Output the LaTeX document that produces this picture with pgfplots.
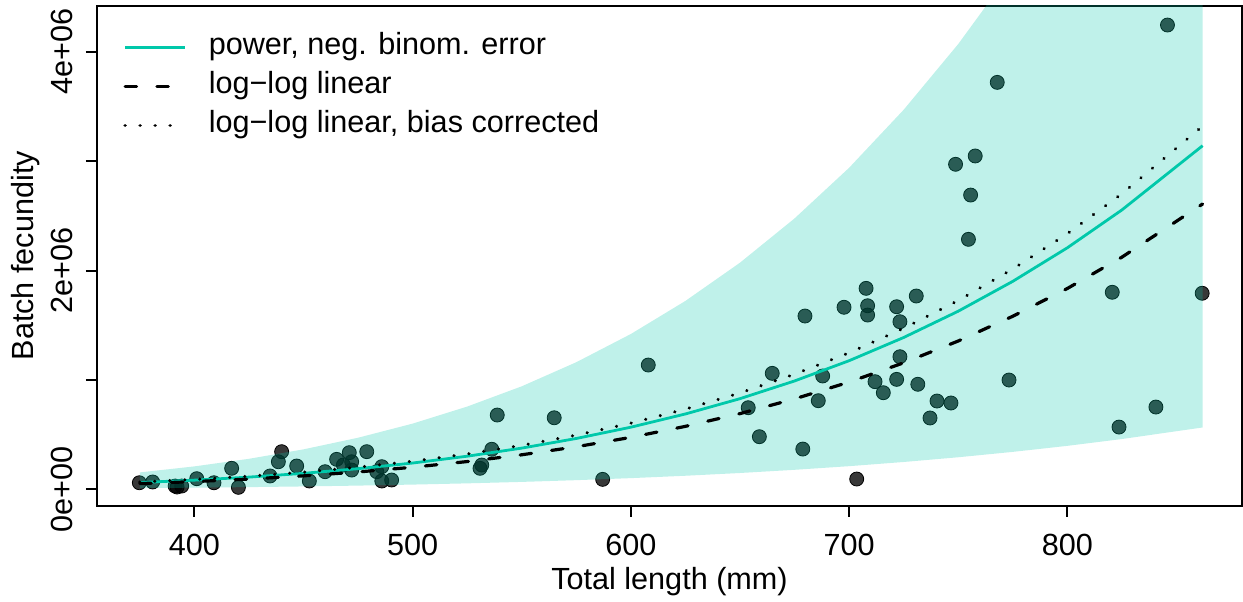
\documentclass[border=0pt]{standalone}
\usepackage{fontspec}
\setmainfont{Liberation Sans}
\usepackage{pgfplots}
\pgfplotsset{compat=1.18}
\definecolor{nbteal}{RGB}{0,200,170}
\newcommand\fs{\fontsize{15.3}{18}\selectfont}
\begin{document}
\begin{tikzpicture}
\begin{axis}[
  width=572.5pt, height=249.75pt, scale only axis,
  xmin=355.4, xmax=880.05, ymin=-148000, ymax=4418000,
  clip marker paths=true,
  axis line style={line width=1pt},
  tick style={line width=1pt, black},
  tick align=outside, major tick length=5.5pt,
  xtick pos=bottom, ytick pos=left,
  xtick={400,500,600,700,800}, xticklabels={400,500,600,700,800},
  ytick={0,1000000,2000000,3000000,4000000},
  yticklabels={0e+00,,2e+06,,4e+06},
  scaled y ticks=false,
  /pgf/number format/assume math mode=true,
  tick label style={font=\fs},
  xticklabel style={anchor=base}, xticklabel shift=19.25pt,
  yticklabel style={rotate=90, anchor=base}, yticklabel shift=6.5pt,
  xlabel={Total length (mm)}, ylabel={Batch fecundity},
  xlabel style={at={(axis description cs:0.5,0)}, anchor=base, yshift=-41.75pt, font=\fs},
  ylabel style={at={(axis description cs:-0.0559,0.5)}, anchor=base, font=\fs},
  legend style={draw=none, fill=none, at={(axis description cs:0,1)}, anchor=north west,
    xshift=13pt, yshift=-13.25pt, inner sep=0pt, row sep=5pt, column sep=11pt,
    font=\fs, nodes={inner sep=0pt, text height=11pt, text depth=3.5pt}},
  legend cell align=left,
  legend image code/.code={\draw[#1] (0pt,0pt) -- (30pt,0pt);},
]
% observed fish
\addplot[only marks, mark=*, mark size=3.5pt,
  mark options={draw=none, fill=black, fill opacity=0.78}, forget plot]
coordinates {
(374.8,60000) (380.9,67000) (391.2,30000) (392.1,21000) (394.2,30000)
(401.1,97000) (409.0,60000) (417.1,192000) (420.2,18000) (434.7,122000)
(438.5,252000) (440.0,344000) (446.9,213000) (452.7,76000) (459.9,161000)
(465.2,274000) (468.3,222000) (471.0,335000) (472.1,252000) (472.1,176000)
(479.0,344000) (483.6,161000) (485.9,207000) (485.9,76000) (490.4,85000)
(530.9,192000) (531.7,222000) (536.3,366000) (538.8,679000) (564.9,654000)
(587.1,91000) (608.0,1136000) (653.8,746000) (658.9,481000) (664.8,1060000)
(679.8,1584000) (678.8,368000) (685.9,810000) (687.9,1036000) (697.7,1664000)
(703.5,94000) (707.8,1837000) (708.5,1678000) (708.5,1593000) (711.9,984000)
(715.7,883000) (721.8,1669000) (721.8,1005000) (723.3,1212000) (723.3,1532000)
(730.8,1767000) (731.5,960000) (737.1,652000) (740.3,807000) (746.7,789000)
(748.8,2971000) (754.7,2285000) (755.7,2690000) (757.8,3047000) (767.9,3720000)
(773.3,999000) (820.6,1801000) (823.7,569000) (840.6,752000) (845.9,4244000)
(861.8,1792000)
};
% prediction band
\addplot[draw=none, fill=nbteal, fill opacity=0.25, forget plot]
coordinates {
(375,154480) (400,209400) (425,278780) (450,365100) (475,471450)
(500,600330) (525,756130) (550,941350) (575,1161550) (600,1419430)
(625,1721750) (650,2071130) (675,2475730) (700,2938580) (725,3468850)
(750,4069630) (775,4752250) (800,5518730) (825,6383750) (862,7852500)
(862,565380) (825,459630) (800,397350) (775,342160) (750,293010)
(725,249760) (700,211580) (675,178250) (650,149120) (625,123970)
(600,102200) (575,83630) (550,67780) (525,54440) (500,43220)
(475,33940) (450,26290) (425,20070) (400,15080) (375,11120)
};
\addplot[nbteal, line width=1.4pt]
coordinates {
(375,61790) (400,83760) (425,111510) (450,146040) (475,188580)
(500,240130) (525,302450) (550,376540) (575,464620) (600,567770)
(625,688700) (650,828450) (675,990290) (700,1175430) (725,1387540)
(750,1627850) (775,1900900) (800,2207490) (825,2553500) (862,3141000)
};
\addlegendentry{power, neg. binom. error}
\addplot[black, line width=1.6pt, line cap=round, dash pattern=on 5.75pt off 10.15pt]
coordinates {
(375,52140) (400,70620) (425,93910) (450,122850) (475,158430)
(500,201570) (525,253610) (550,315470) (575,388920) (600,474860)
(625,575530) (650,691770) (675,826290) (700,980030) (725,1156150)
(750,1355400) (775,1581790) (800,1835650) (825,2122050) (862,2608000)
};
\addlegendentry{log−log linear}
\addplot[black, line width=1.7pt, line cap=round, dash pattern=on 0.01pt off 7.5pt]
coordinates {
(375,66370) (400,89900) (425,119550) (450,156390) (475,201680)
(500,256600) (525,322850) (550,401600) (575,495100) (600,604500)
(625,732650) (650,880620) (675,1051870) (700,1247580) (725,1471780)
(750,1725420) (775,2013620) (800,2336780) (825,2701370) (862,3320000)
};
\addlegendentry{log−log linear, bias corrected}
\end{axis}
\pgfresetboundingbox
\path[use as bounding box] ([shift={(-48.5pt,-47.75pt)}]current axis.south west)
  rectangle ([shift={(0.5pt,3pt)}]current axis.north east);
\end{tikzpicture}
\end{document}
